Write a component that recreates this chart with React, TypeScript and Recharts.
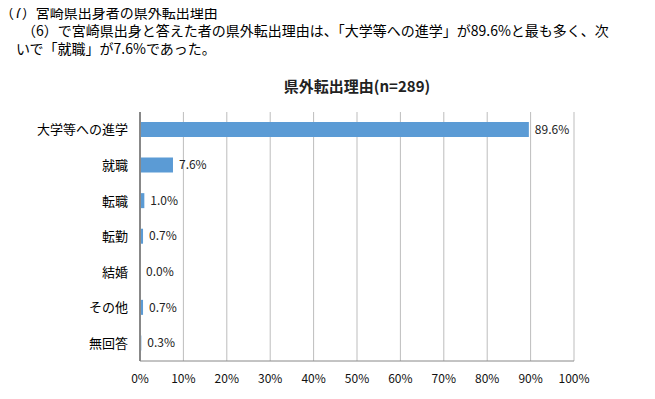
import { BarChart, Bar, XAxis, YAxis, CartesianGrid, LabelList } from 'recharts';

const reasons = ['大学等への進学', '就職', '転職', '転勤', '結婚', 'その他', '無回答'];
const shares = [89.6, 7.6, 1.0, 0.7, 0.0, 0.7, 0.3];
const xTicks = [0, 10, 20, 30, 40, 50, 60, 70, 80, 90, 100];

const FONT = '"Noto Sans CJK JP", "Noto Sans", sans-serif';

const chartData = reasons.map((name, i) => ({ name, value: shares[i] }));

const App = () => {
  return (
    <div style={{ position: 'relative', width: 655, height: 399, margin: -8, fontFamily: FONT, background: '#fff', color: '#000' }}>
      <div style={{ position: 'absolute', left: 0, top: 0 }}>
        <BarChart
          width={655}
          height={399}
          data={chartData}
          layout="vertical"
          margin={{ top: 112, right: 81, bottom: 8, left: 0 }}
          barCategoryGap={0}
        >
          <CartesianGrid horizontal={false} stroke="#bdbdbd" />
          <XAxis
            type="number"
            domain={[0, 100]}
            ticks={xTicks}
            tickFormatter={(v) => `${v}%`}
            tickLine={false}
            tickSize={0}
            tickMargin={13}
            axisLine={{ stroke: '#888' }}
            tick={{ fill: '#111', fontSize: 12, fontFamily: FONT }}
            interval={0}
          />
          <YAxis
            type="category"
            dataKey="name"
            width={140}
            tickLine={false}
            tickSize={0}
            tickMargin={12}
            axisLine={{ stroke: '#888', strokeWidth: 2 }}
            tick={{ fill: '#000', fontSize: 13, fontFamily: FONT }}
            interval={0}
          />
          <Bar dataKey="value" fill="#5B9BD5" barSize={15} minPointSize={0.01} isAnimationActive={false}>
            <LabelList
              dataKey="value"
              position="right"
              offset={6}
              formatter={(v: number) => `${Number(v).toFixed(1)}%`}
              style={{ fill: '#222', fontSize: 12, fontFamily: FONT }}
            />
          </Bar>
        </BarChart>
      </div>
      <div style={{ position: 'absolute', zIndex: 2, left: 0, top: 3, fontSize: 14, lineHeight: '18px', whiteSpace: 'nowrap' }}>
        （7）宮崎県出身者の県外転出理由
      </div>
      <div style={{ position: 'absolute', zIndex: 2, left: 22, top: 21, fontSize: 14, lineHeight: '18px', whiteSpace: 'nowrap' }}>
        （6）で宮崎県出身と答えた者の県外転出理由は、「大学等への進学」が89.6%と最も多く、次
      </div>
      <div style={{ position: 'absolute', zIndex: 2, left: 16, top: 39, fontSize: 14, lineHeight: '18px', whiteSpace: 'nowrap' }}>
        いで「就職」が7.6%であった。
      </div>
      <div style={{ position: 'absolute', zIndex: 2, left: 140, width: 434, top: 75, textAlign: 'center', fontSize: 15, fontWeight: 'bold', color: '#222' }}>
        県外転出理由(n=289)
      </div>
    </div>
  );
};

export default App;
